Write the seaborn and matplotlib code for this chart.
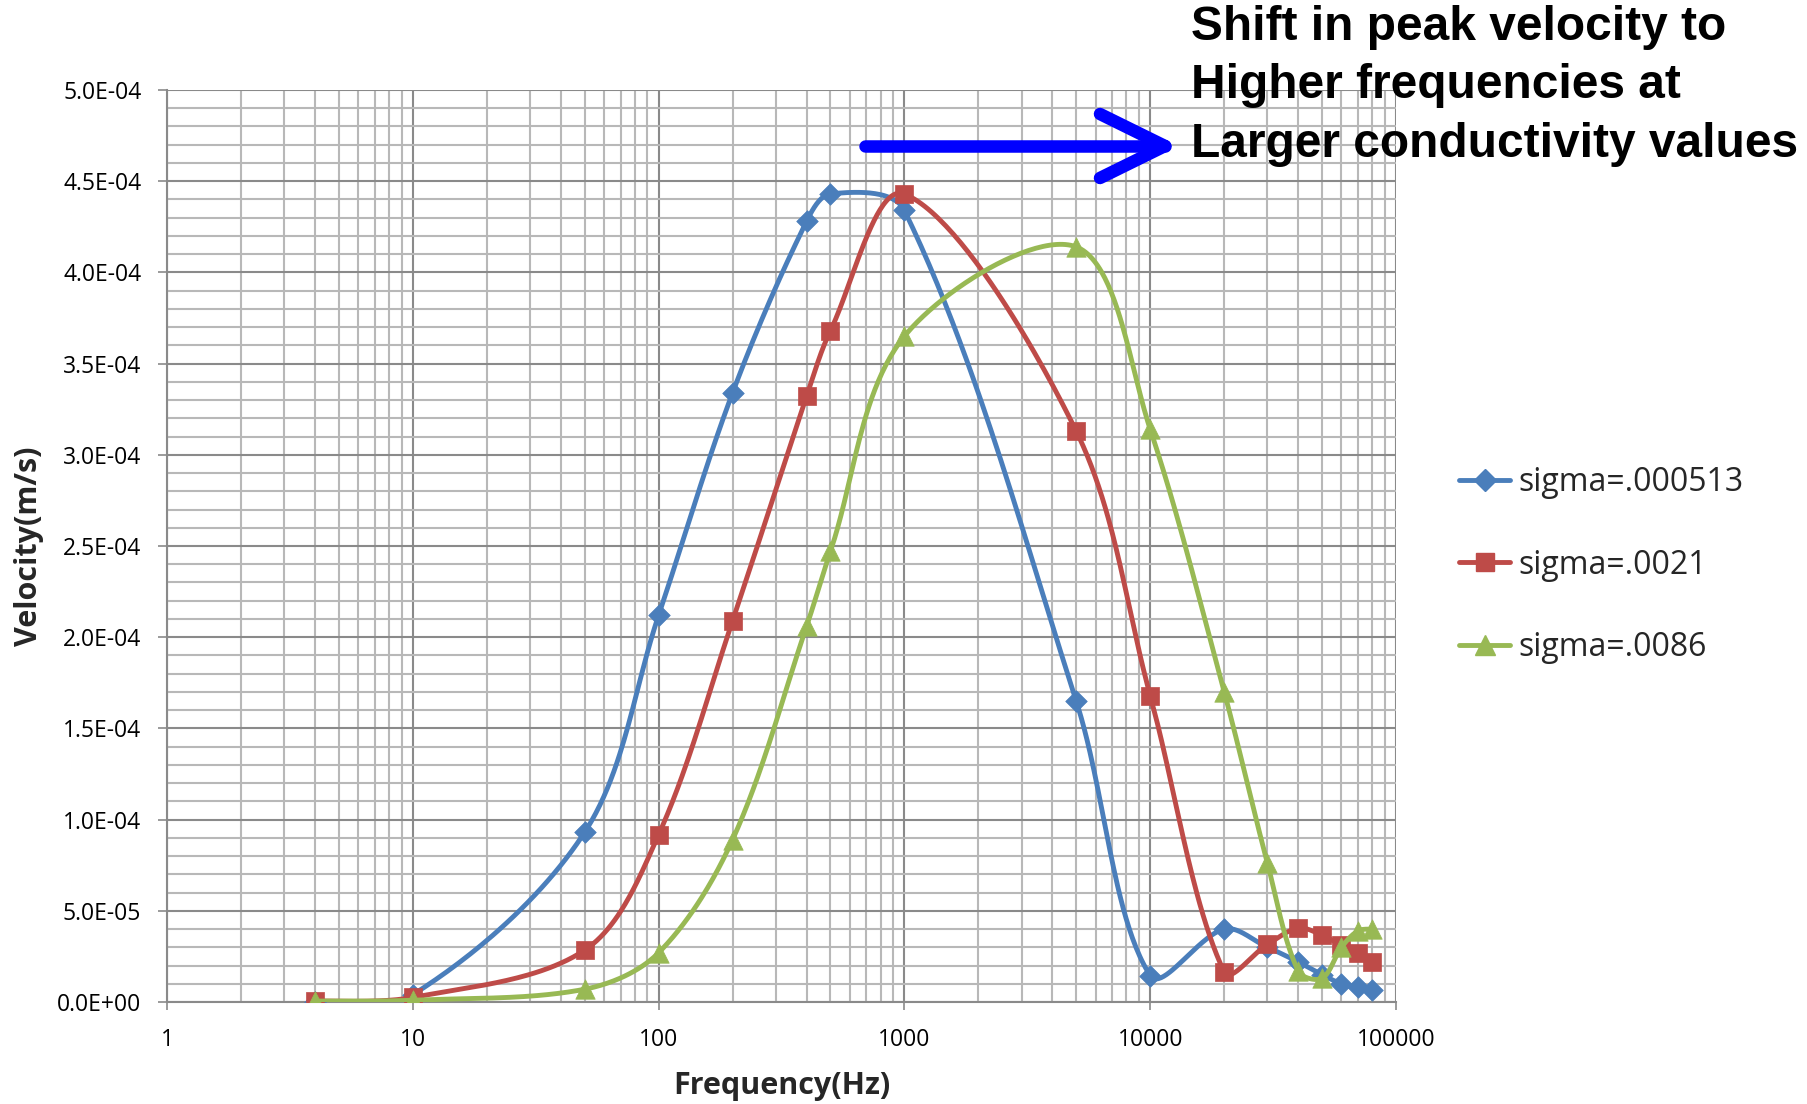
import numpy as np
import pandas as pd
import matplotlib
matplotlib.use("Agg")
import matplotlib.pyplot as plt
import seaborn as sns
from matplotlib.lines import Line2D
from matplotlib.ticker import FuncFormatter, LogLocator, MultipleLocator, NullFormatter, FixedLocator

# ---------------- data ----------------
freq = [4, 10, 50, 100, 200, 400, 500, 1000, 5000, 10000, 20000, 30000,
        40000, 50000, 60000, 70000, 80000]
vel_000513 = [0.0, 4e-6, 93e-6, 212e-6, 334e-6, 428e-6, 443e-6, 434e-6, 165e-6,
              14.5e-6, 40e-6, 30e-6, 22e-6, 15e-6, 10e-6, 8e-6, 6.5e-6]
vel_0021 = [0.5e-6, 2.5e-6, 28.4e-6, 91.7e-6, 209e-6, 332e-6, 368e-6, 443e-6, 313e-6,
            168e-6, 16.4e-6, 31.6e-6, 40.5e-6, 36.7e-6, 31e-6, 27e-6, 22e-6]
vel_0086 = [0.5e-6, 1e-6, 7e-6, 27e-6, 89e-6, 206e-6, 247e-6, 365e-6, 414e-6,
            314e-6, 170e-6, 76e-6, 17e-6, 13e-6, 30e-6, 39e-6, 40e-6]
series_names = ["sigma=.000513", "sigma=.0021", "sigma=.0086"]
series_vals = [vel_000513, vel_0021, vel_0086]
colors = ["#4A7EBB", "#BE4B48", "#98B954"]
markers = ["D", "s", "^"]
msizes = [11, 13, 14]

x_ticks = [1, 10, 100, 1000, 10000, 100000]
x_ticklabels = ["1", "10", "100", "1000", "10000", "100000"]
y_max = 5e-4
y_step = 5e-5

annotation = "Shift in peak velocity to\nHigher frequencies at\nLarger conductivity values"

# ---------------- figure ----------------
W, H = 1808, 1104
sns.set_theme(style="white")
plt.rcParams["font.family"] = ["Open Sans", "DejaVu Sans"]

fig = plt.figure(figsize=(W / 100, H / 100), dpi=100)
L, R, T, B = 167, 1396, 90, 1002
ax = fig.add_axes([L / W, 1 - B / H, (R - L) / W, (B - T) / H])

# smooth Bezier curve (Excel-like) in screen-proportional coordinates,
# tangents scaled by neighbouring chord lengths to avoid overshoot
def smooth(xs, ys, n=50):
    px = np.log10(np.asarray(xs, float)) * (R - L) / 5.0
    py = np.asarray(ys, float) / y_max * (B - T)
    P = np.column_stack([px, py])
    m = len(P)
    d = np.hypot(*(P[1:] - P[:-1]).T)
    out = []
    for i in range(m - 1):
        p1, p2 = P[i], P[i + 1]
        if i > 0:
            c1 = p1 + (p2 - P[i - 1]) * d[i] / (d[i - 1] + d[i]) / 3.0
        else:
            c1 = p1 + (p2 - p1) / 6.0
        if i + 2 < m:
            c2 = p2 - (P[i + 2] - p1) * d[i] / (d[i] + d[i + 1]) / 3.0
        else:
            c2 = p2 - (p2 - p1) / 6.0
        t = np.linspace(0, 1, n, endpoint=(i == m - 2))[:, None]
        seg = ((1 - t) ** 3) * p1 + 3 * ((1 - t) ** 2) * t * c1 + 3 * (1 - t) * t ** 2 * c2 + t ** 3 * p2
        out.append(seg)
    S = np.vstack(out)
    return 10 ** (S[:, 0] * 5.0 / (R - L)), S[:, 1] / (B - T) * y_max

handles = []
for k, (name, vals) in enumerate(zip(series_names, series_vals)):
    sx, sy = smooth(freq, vals)
    sns.lineplot(x=sx, y=sy, ax=ax, color=colors[k], lw=3.5, sort=False,
                 estimator=None, zorder=3 + 2 * k, legend=False)
    df = pd.DataFrame({"f": freq, "v": vals})
    sns.scatterplot(data=df, x="f", y="v", ax=ax, color=colors[k], marker=markers[k],
                    s=msizes[k] ** 2, edgecolor=colors[k], linewidth=0.5,
                    zorder=4 + 2 * k, legend=False)
    handles.append(Line2D([], [], color=colors[k], lw=3.5, marker=markers[k],
                          markersize=msizes[k], markeredgecolor=colors[k]))

ax.set_xscale("log")
ax.set_xlim(1, 100000)
ax.set_ylim(0, y_max)

ax.xaxis.set_major_locator(FixedLocator(x_ticks))
ax.set_xticklabels(x_ticklabels)
ax.xaxis.set_minor_locator(LogLocator(base=10, subs=np.arange(2, 10)))
ax.xaxis.set_minor_formatter(NullFormatter())
ax.yaxis.set_major_locator(MultipleLocator(y_step))
ax.yaxis.set_minor_locator(MultipleLocator(y_step / 5))
ax.yaxis.set_major_formatter(FuncFormatter(lambda v, p: "%.1E" % v))

ax.grid(True, which="major", color="#8A8A8A", lw=1.5, zorder=1)
ax.grid(True, which="minor", color="#B8B8B8", lw=1.5, zorder=0)
ax.set_axisbelow(True)

for s in ["top", "right"]:
    ax.spines[s].set_visible(False)
for s in ["left", "bottom"]:
    ax.spines[s].set_color("#8A8A8A")
    ax.spines[s].set_linewidth(1.5)

ax.tick_params(axis="y", which="major", direction="out", length=6.5, width=1.2,
               color="#8A8A8A", left=True, labelsize=16.5, pad=12, labelcolor="black")
ax.tick_params(axis="x", which="major", direction="out", length=6, width=1.2,
               color="#8A8A8A", bottom=True, labelsize=16.5, pad=13, labelcolor="black")
ax.tick_params(which="minor", length=0)

ax.set_xlabel("Frequency(Hz)", fontsize=22, fontweight="bold")
ax.set_ylabel("Velocity(m/s)", fontsize=22, fontweight="bold")
ax.xaxis.set_label_coords(0.5, (B - 1086) / (B - T))
ax.xaxis.label.set_va("center")
ax.yaxis.set_label_coords((29 - L) / (R - L), 0.5)
ax.yaxis.label.set_va("center")

leg = ax.legend(handles, series_names, loc="center left",
                bbox_to_anchor=((1459 - L) / (R - L), (B - 565) / (B - T)),
                frameon=False, fontsize=23, handlelength=1.6, handletextpad=0.25,
                labelspacing=1.55, borderpad=0, borderaxespad=0)

# annotation text and arrow (figure pixel coordinates)
fig.text(1191 / W, 1 - 86 / H, annotation, ha="left", va="center", fontsize=34.5,
         fontweight="bold", family="Liberation Sans", linespacing=1.39, color="black")

def fx(x):
    return x / W
def fy(y):
    return 1 - y / H
arrow_kw = dict(color="#0000FF", lw=9, solid_capstyle="round", transform=fig.transFigure)
fig.add_artist(Line2D([fx(865), fx(1165)], [fy(146), fy(146)], **arrow_kw))
fig.add_artist(Line2D([fx(1100), fx(1165)], [fy(114), fy(146)], **arrow_kw))
fig.add_artist(Line2D([fx(1100), fx(1165)], [fy(178), fy(146)], **arrow_kw))

fig.savefig("out.png", dpi=100)
